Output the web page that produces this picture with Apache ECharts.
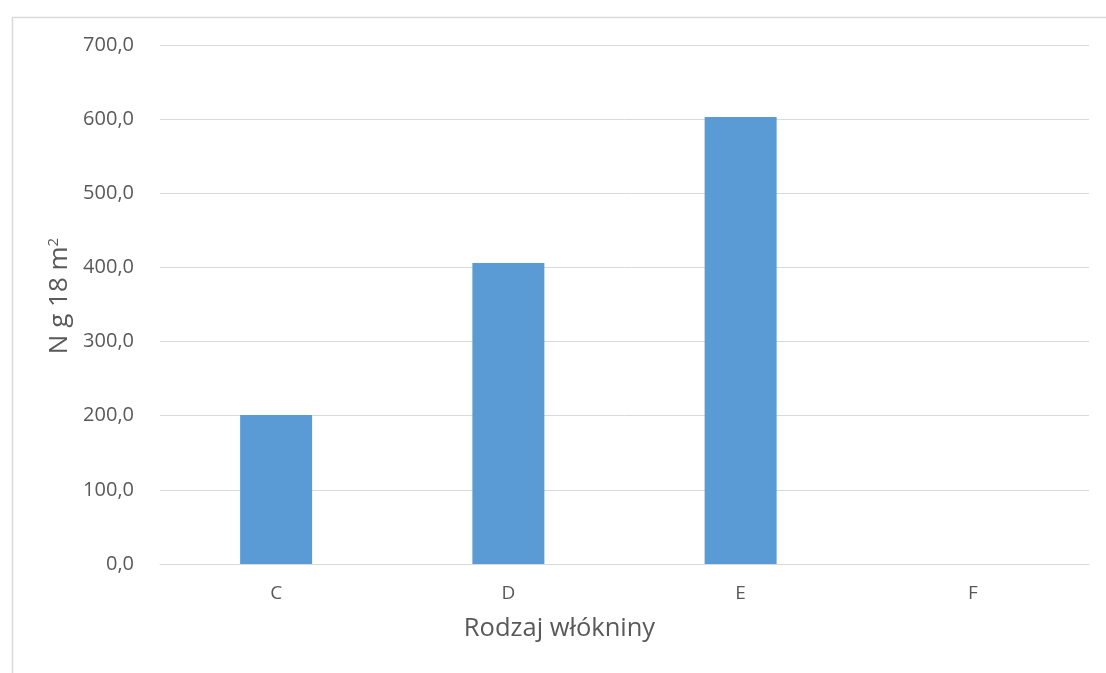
<!DOCTYPE html>
<html><head><meta charset="utf-8">
<script src="https://cdn.jsdelivr.net/npm/echarts@6/dist/echarts.min.js"></script>
<style>html,body{margin:0;padding:0;background:#fff}#c{width:1106px;height:673px}</style>
</head><body><div id="c"></div>
<script>
const categories = ['C', 'D', 'E', 'F'];
const values = [201, 406, 603, 0];
const xTitle = 'Rodzaj włókniny';
const chart = echarts.init(document.getElementById('c'));
const font = 'Open Sans';
chart.setOption({
  animation: false,
  backgroundColor: '#fff',
  graphic: [{type: 'rect', left: 10, top: 15, shape: {width: 1200, height: 800}, style: {fill: 'none', stroke: '#d9d9d9', lineWidth: 1.5}, silent: true, z: -1}],
  grid: {left: 160, right: 17, top: 45, bottom: 109},
  xAxis: {
    type: 'category', data: categories,
    axisLine: {lineStyle: {color: '#d9d9d9', width: 1}},
    axisTick: {show: false},
    axisLabel: {color: '#595959', fontFamily: font, fontSize: 19, margin: 20},
    name: xTitle, nameLocation: 'middle', nameGap: 52,
    nameTextStyle: {color: '#595959', fontFamily: font, fontSize: 25.5, padding: [0, 130, 0, 0]}
  },
  yAxis: {
    type: 'value', min: 0, max: 700, interval: 100,
    axisLine: {show: false}, axisTick: {show: false},
    splitLine: {lineStyle: {color: '#d9d9d9', width: 1}},
    axisLabel: {color: '#595959', fontFamily: font, fontSize: 20, margin: 26,
      formatter: v => v.toFixed(1).replace('.', ',')},
    name: 'N g 18 m{sup|2}', nameLocation: 'middle', nameGap: 86, nameRotate: 90,
    nameTextStyle: {color: '#595959', fontFamily: font, fontSize: 26, padding: [0, 0, 0, 17],
      rich: {sup: {fontSize: 15, verticalAlign: 'top', color: '#595959', fontFamily: font, padding: [0,0,10,0]}}}
  },
  series: [{type: 'bar', data: values, barWidth: '31%', itemStyle: {color: '#5b9bd5'}}]
});
</script></body></html>
